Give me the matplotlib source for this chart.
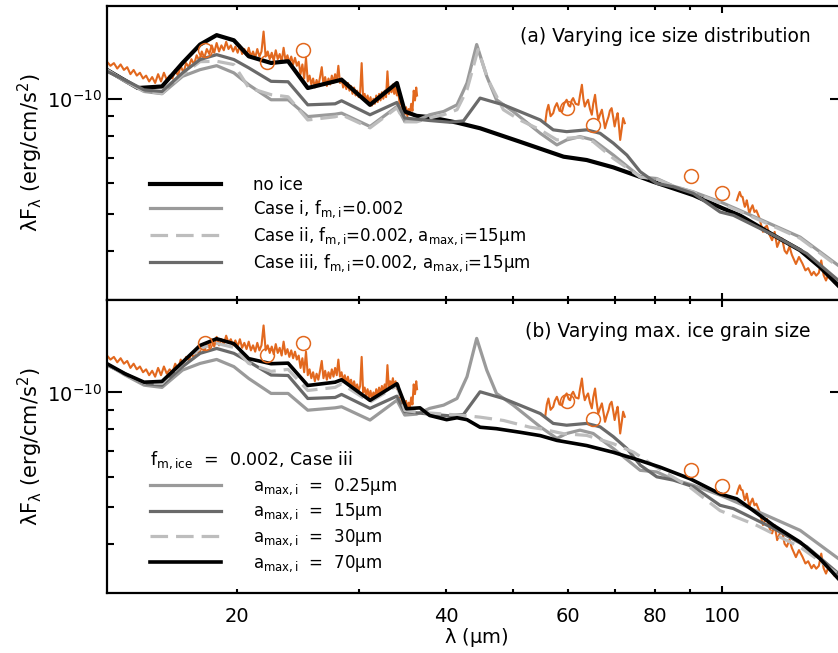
import numpy as np
import matplotlib.pyplot as plt
from matplotlib.ticker import FixedLocator, FuncFormatter, NullFormatter

plt.rcParams['font.family'] = 'DejaVu Sans'
plt.rcParams['mathtext.default'] = 'regular'

UNIT = 1e-10  # all fluxes below are in units of 1e-10 erg/cm/s^2

# ---------------- model SEDs ----------------
# no ice
wl_noice = [13.0, 14.4, 15.6, 16.7, 17.7, 18.7, 19.8, 20.8, 22.4, 23.7,
            25.3, 27.7, 28.3, 31.1, 34.0, 34.9, 36.3, 37.9, 41.5, 44.8,
            51.1, 59.1, 63.8, 69.7, 76.2, 79.6, 85.1, 90.9, 100, 106,
            118.6, 129.5, 138.4, 150]
f_noice = [1.19, 1.067, 1.077, 1.241, 1.387, 1.468, 1.423, 1.292, 1.241, 1.254,
           1.067, 1.111, 1.122, 0.964, 1.100, 0.926, 0.902, 0.895, 0.866, 0.837,
           0.772, 0.705, 0.691, 0.661, 0.624, 0.606, 0.582, 0.559, 0.517, 0.495,
           0.439, 0.401, 0.362, 0.312]

# case i (same run as a_max,i = 0.25 um)
wl_case1 = [13.0, 13.8, 14.7, 15.6, 16.7, 17.7, 18.7, 19.8, 20.8, 22.4,
            23.7, 25.3, 27.7, 28.3, 31.1, 34.0, 34.9, 36.3, 37.9, 39.7,
            41.5, 42.9, 44.3, 45.8, 47.3, 50.0, 54.7, 57.8, 59.7, 62.4,
            65.2, 69.7, 76.2, 80.5, 85.1, 90.9, 99.3, 106, 118.6, 129.5, 150]
f_case1 = [1.187, 1.111, 1.045, 1.031, 1.145, 1.192, 1.221, 1.169, 1.088, 0.994,
           0.994, 0.898, 0.911, 0.917, 0.846, 0.954, 0.872, 0.877, 0.908, 0.926,
           0.964, 1.100, 1.387, 1.145, 0.994, 0.926, 0.812, 0.757, 0.780, 0.796,
           0.780, 0.712, 0.624, 0.618, 0.590, 0.570, 0.537, 0.510, 0.466, 0.434, 0.356]

# case ii
wl_case2 = [13.0, 13.8, 14.7, 15.6, 16.7, 17.7, 18.7, 19.8, 20.8, 22.4,
            23.7, 25.3, 27.7, 28.3, 31.1, 34.0, 34.9, 36.3, 37.9, 39.7,
            41.5, 42.9, 44.5, 46.0, 48.4, 51.1, 54.7, 57.8, 59.7, 62.4,
            65.2, 69.7, 76.2, 80.5, 85.1, 90.9, 99.3, 106, 118.6, 129.5, 150]
f_case2 = [1.19, 1.115, 1.048, 1.033, 1.157, 1.251, 1.254, 1.229, 1.069, 1.025,
           1.012, 0.880, 0.897, 0.908, 0.839, 0.947, 0.870, 0.870, 0.891, 0.908,
           0.936, 1.056, 1.346, 1.122, 0.936, 0.880, 0.829, 0.780, 0.788, 0.793,
           0.772, 0.698, 0.624, 0.616, 0.590, 0.569, 0.533, 0.507, 0.463, 0.431, 0.353]

# case iii (same run as a_max,i = 15 um)
wl_case3 = [13.0, 13.8, 14.7, 15.6, 16.7, 17.7, 18.7, 19.8, 20.8, 22.4,
            23.7, 25.3, 27.7, 28.3, 31.1, 34.0, 34.9, 36.3, 37.9, 40.5,
            42.4, 44.8, 48.4, 51.1, 54.7, 57.1, 59.7, 63.8, 66.7, 69.7,
            72.9, 76.2, 80.5, 85.1, 90.9, 99.3, 103.8, 118.6, 132.4, 150]
f_case3 = [1.18, 1.12, 1.055, 1.045, 1.169, 1.267, 1.305, 1.267, 1.205, 1.111,
           1.108, 0.964, 0.970, 0.988, 0.908, 0.978, 0.890, 0.884, 0.877, 0.868,
           0.875, 1.004, 0.964, 0.926, 0.880, 0.829, 0.820, 0.829, 0.812, 0.765,
           0.712, 0.644, 0.600, 0.588, 0.565, 0.505, 0.495, 0.439, 0.393, 0.324]

# a_max,i = 30 um
wl_amax30 = [13.0, 13.8, 14.7, 15.6, 16.7, 17.7, 18.7, 19.8, 20.8, 22.4,
             23.7, 25.3, 27.7, 28.3, 31.1, 34.0, 34.9, 36.3, 39.2, 42.4,
             44.8, 48.4, 52.9, 54.7, 59.1, 63.8, 69.7, 74.5, 79.6, 85.1,
             89.9, 99.3, 112.2, 129.5, 150]
f_amax30 = [1.185, 1.115, 1.059, 1.056, 1.195, 1.306, 1.346, 1.313, 1.192, 1.136,
            1.15, 1.012, 1.031, 1.054, 0.943, 1.043, 0.897, 0.888, 0.879, 0.870,
            0.861, 0.844, 0.810, 0.803, 0.779, 0.771, 0.733, 0.697, 0.643, 0.598,
            0.563, 0.489, 0.447, 0.392, 0.324]

# a_max,i = 70 um
wl_amax70 = [13.0, 13.8, 14.7, 15.6, 16.7, 17.7, 18.7, 19.8, 20.8, 22.4,
             23.7, 25.3, 27.7, 28.3, 31.1, 34.0, 35.1, 36.7, 37.9, 40.1,
             41.5, 42.9, 44.8, 47.3, 51.1, 54.7, 57.8, 63.8, 69.7, 76.2,
             81.4, 89.9, 99.3, 105, 110.9, 118.6, 129.5, 138.4, 150]
f_amax70 = [1.19, 1.12, 1.064, 1.069, 1.201, 1.329, 1.384, 1.343, 1.227, 1.19,
            1.194, 1.043, 1.064, 1.080, 0.953, 1.054, 0.906, 0.911, 0.870, 0.848,
            0.858, 0.848, 0.810, 0.803, 0.786, 0.770, 0.748, 0.725, 0.696, 0.662,
            0.636, 0.593, 0.541, 0.525, 0.489, 0.447, 0.404, 0.365, 0.311]

# ---------------- observations ----------------
# IRS spectrum
irs_wl = [13.0, 13.15, 13.3, 13.45, 13.6, 13.75, 13.9, 14.05, 14.2, 14.35,
          14.5, 14.65, 14.8, 14.95, 15.1, 15.25, 15.4, 15.55, 15.7, 15.85,
          16.0, 16.15, 16.3, 16.45, 16.6, 16.75, 16.9, 17.05, 17.2, 17.35,
          17.5, 17.65, 17.8, 17.95, 18.1, 18.25, 18.4, 18.55, 18.7, 18.85,
          19.0, 19.15, 19.3, 19.45, 19.6, 19.75, 19.9, 20.05, 20.2, 20.35,
          20.5, 20.65, 20.8, 20.95, 21.1, 21.25, 21.4, 21.55, 21.7, 21.85,
          22.0, 22.15, 22.3, 22.45, 22.6, 22.75, 22.9, 23.05, 23.2, 23.35,
          23.5, 23.65, 23.8, 23.95, 24.1, 24.25, 24.4, 24.55, 24.7, 24.85,
          25.0, 25.15, 25.3, 25.45, 25.6, 25.75, 25.9, 26.05, 26.2, 26.35,
          26.5, 26.65, 26.8, 26.95, 27.1, 27.25, 27.4, 27.55, 27.7, 27.85,
          28.0, 28.15, 28.3, 28.45, 28.6, 28.75, 28.9, 29.05, 29.2, 29.35,
          29.5, 29.65, 29.8, 29.95, 30.1, 30.25, 30.4, 30.55, 30.7, 30.85,
          31.0, 31.15, 31.3, 31.45, 31.6, 31.75, 31.9, 32.05, 32.2, 32.35,
          32.5, 32.65, 32.8, 32.95, 33.1, 33.25, 33.4, 33.55, 33.7, 33.85,
          34.0, 34.15, 34.3, 34.45, 34.6, 34.75, 34.9, 35.05, 35.2, 35.35,
          35.5, 35.65, 35.8, 35.95, 36.1, 36.25, 36.35]
irs_flux = [1.25, 1.22, 1.24, 1.20, 1.23, 1.19, 1.21, 1.16, 1.19, 1.15,
            1.17, 1.13, 1.15, 1.11, 1.14, 1.10, 1.16, 1.11, 1.17, 1.12,
            1.15, 1.13, 1.19, 1.15, 1.22, 1.17, 1.24, 1.21, 1.27, 1.23,
            1.30, 1.26, 1.33, 1.28, 1.35, 1.31, 1.38, 1.32, 1.40, 1.33,
            1.38, 1.34, 1.41, 1.35, 1.38, 1.33, 1.37, 1.32, 1.38, 1.31,
            1.35, 1.30, 1.36, 1.29, 1.33, 1.28, 1.35, 1.29, 1.33, 1.50,
            1.29, 1.33, 1.27, 1.32, 1.26, 1.34, 1.27, 1.31, 1.25, 1.36,
            1.26, 1.30, 1.24, 1.29, 1.23, 1.28, 1.22, 1.25, 1.16, 1.23,
            1.13, 1.28, 1.11, 1.15, 1.09, 1.13, 1.07, 1.12, 1.08, 1.14,
            1.21, 1.09, 1.14, 1.08, 1.13, 1.09, 1.15, 1.10, 1.16, 1.11,
            1.22, 1.10, 1.13, 1.07, 1.11, 1.06, 1.10, 1.05, 1.08, 1.03,
            1.07, 1.02, 1.05, 1.01, 1.04, 1.24, 1.00, 1.03, 0.98, 1.02,
            0.97, 1.01, 0.96, 1.00, 0.97, 1.02, 0.98, 1.03, 0.99, 1.04,
            1.00, 1.05, 1.01, 1.18, 1.03, 1.07, 1.04, 1.09, 1.03, 1.07,
            1.02, 1.05, 0.97, 0.99, 0.93, 0.96, 0.91, 0.95, 0.90, 0.94,
            0.91, 0.97, 0.93, 1.05, 0.99, 1.07, 1.02]

# 55-72 um spectrum
mid_wl = [55.6, 55.9, 56.2, 56.6, 57.1, 57.4, 57.8, 58.3, 58.8, 59.2,
          59.7, 60.1, 60.4, 60.7, 61.0, 61.5, 62.1, 62.4, 62.8, 63.1,
          63.4, 63.8, 64.1, 64.5, 64.9, 65.2, 65.6, 65.9, 66.3, 66.7,
          67.1, 67.5, 67.8, 68.2, 68.6, 68.9, 69.3, 69.7, 70.0, 70.4,
          70.7, 71.0, 71.3, 71.7, 72.0, 72.4]
mid_flux = [0.863, 0.93, 0.964, 0.90, 0.917, 0.95, 0.974, 0.93, 0.926, 0.97,
            0.994, 0.96, 0.954, 0.99, 1.004, 0.97, 0.964, 1.02, 1.088, 1.00,
            0.954, 0.98, 0.994, 0.94, 0.908, 0.97, 1.024, 0.95, 0.880, 0.91,
            0.936, 0.88, 0.837, 0.87, 0.898, 0.93, 0.945, 0.89, 0.846, 0.89,
            0.917, 0.85, 0.780, 0.84, 0.890, 0.863]

# 105-146 um spectrum
far_wl = [105.0, 105.6, 106.0, 106.5, 107.0, 107.4, 107.8, 108.2, 108.5, 109.0,
          109.4, 110.0, 110.6, 111.3, 112.0, 113.0, 113.7, 114.5, 115.2, 116.0,
          117.0, 118.0, 119.0, 120.0, 121.0, 122.0, 123.0, 123.9, 125.0, 126.0,
          127.7, 129.0, 130.5, 131.8, 133.0, 134.5, 135.5, 136.6, 137.8, 138.9,
          140.0, 141.1, 142.5, 143.8, 145.0, 146.3]
far_flux = [0.542, 0.56, 0.570, 0.555, 0.553, 0.535, 0.521, 0.530, 0.542, 0.52,
            0.500, 0.515, 0.526, 0.505, 0.51, 0.490, 0.47, 0.448, 0.46, 0.465,
            0.44, 0.426, 0.448, 0.409, 0.425, 0.43, 0.40, 0.393, 0.41, 0.39,
            0.369, 0.385, 0.37, 0.355, 0.36, 0.345, 0.352, 0.344, 0.35, 0.377,
            0.345, 0.334, 0.35, 0.34, 0.33, 0.327]

# photometry
phot_wl = [18.0, 22.1, 24.9, 59.8, 65.2, 90.2, 100.0]
phot_flux = [1.346, 1.251, 1.346, 0.947, 0.854, 0.627, 0.566]

ORANGE = '#E2681E'
BLACK = 'black'
MID = '#9a9a9a'
DARK = '#6a6a6a'
LIGHT = '#bdbdbd'
DASH = (5.5, 2.5)


def sed(wl, f):
    return np.array(wl), np.array(f) * UNIT


def draw_obs(ax):
    for wl, f in [(irs_wl, irs_flux), (mid_wl, mid_flux), (far_wl, far_flux)]:
        x, y = sed(wl, f)
        ax.plot(x, y, color=ORANGE, lw=1.5, zorder=1)
    x, y = sed(phot_wl, phot_flux)
    ax.plot(x, y, 'o', ms=10, mfc='none', mec=ORANGE, mew=1.1, zorder=5)


def style_axes(ax, show_x):
    ax.set_xscale('log')
    ax.set_yscale('log')
    ax.set_xlim(13.0, 150.3)
    ax.set_ylim(0.297 * UNIT, 1.75 * UNIT)
    ax.xaxis.set_major_locator(FixedLocator([100]))
    ax.xaxis.set_minor_locator(FixedLocator([20, 30, 40, 50, 60, 70, 80, 90]))
    ax.xaxis.set_major_formatter(FuncFormatter(lambda v, p: '%d' % v))
    ax.xaxis.set_minor_formatter(
        FuncFormatter(lambda v, p: '%d' % v if int(round(v)) in (20, 40, 60, 80) else ''))
    ax.yaxis.set_major_locator(FixedLocator([UNIT]))
    ax.yaxis.set_minor_locator(FixedLocator([v * 1e-11 for v in range(4, 10)]))
    ax.yaxis.set_major_formatter(FuncFormatter(lambda v, p: r'$10^{-10}$'))
    ax.yaxis.set_minor_formatter(NullFormatter())
    ax.tick_params(which='both', direction='in', top=True, right=True,
                   width=1.5, labelsize=14, labelbottom=show_x)
    ax.tick_params(axis='x', which='major', length=5, pad=10)
    ax.tick_params(axis='x', which='minor', length=3, pad=10)
    ax.tick_params(axis='y', which='major', length=10.5, pad=4)
    ax.tick_params(axis='y', which='minor', length=5.3)
    for s in ax.spines.values():
        s.set_linewidth(1.6)
    ax.set_ylabel(r'$\lambda$F$_\lambda$ (erg/cm/s$^2$)', fontsize=15, labelpad=1)


fig = plt.figure(figsize=(8.38, 6.53), dpi=100)
ax1 = fig.add_axes([0.1277, 0.5406, 0.8807, 0.4502])
ax2 = fig.add_axes([0.1277, 0.0919, 0.8807, 0.4487])

# ---- (a) ice size distribution ----
draw_obs(ax1)
l0, = ax1.plot(*sed(wl_noice, f_noice), color=BLACK, lw=3, label='no ice')
l1, = ax1.plot(*sed(wl_case1, f_case1), color=MID, lw=2.3,
               label=r'Case i, f$_{m,i}$=0.002')
l2, = ax1.plot(*sed(wl_case2, f_case2), color=LIGHT, lw=2.3, dashes=DASH,
               label=r'Case ii, f$_{m,i}$=0.002, a$_{max,i}$=15μm')
l3, = ax1.plot(*sed(wl_case3, f_case3), color=DARK, lw=2.3,
               label=r'Case iii, f$_{m,i}$=0.002, a$_{max,i}$=15μm')
ax1.legend(handles=[l0, l1, l2, l3], loc='lower left', bbox_to_anchor=(0.058, 0.09),
           frameon=False, fontsize=12, handlelength=4.3, handletextpad=1.9,
           labelspacing=0.3, borderpad=0, borderaxespad=0)
ax1.text(0.953, 0.895, '(a) Varying ice size distribution', transform=ax1.transAxes,
         ha='right', va='center', fontsize=13.5)
style_axes(ax1, False)

# ---- (b) maximum ice grain size ----
draw_obs(ax2)
m1, = ax2.plot(*sed(wl_case1, f_case1), color=MID, lw=2.3,
               label=r'a$_{max,i}$  =  0.25μm')
m2, = ax2.plot(*sed(wl_case3, f_case3), color=DARK, lw=2.3,
               label=r'a$_{max,i}$  =  15μm')
m3, = ax2.plot(*sed(wl_amax30, f_amax30), color=LIGHT, lw=2.3, dashes=DASH,
               label=r'a$_{max,i}$  =  30μm')
m4, = ax2.plot(*sed(wl_amax70, f_amax70), color=BLACK, lw=2.6,
               label=r'a$_{max,i}$  =  70μm')
ax2.legend(handles=[m1, m2, m3, m4], loc='lower left', bbox_to_anchor=(0.058, 0.066),
           frameon=False, fontsize=12, handlelength=4.3, handletextpad=1.9,
           labelspacing=0.3, borderpad=0, borderaxespad=0,
           title=r'f$_{m,ice}$  =  0.002, Case iii', title_fontsize=12.5,
           alignment='left')
ax2.text(0.953, 0.891, '(b) Varying max. ice grain size', transform=ax2.transAxes,
         ha='right', va='center', fontsize=13.5)
style_axes(ax2, True)
ax2.set_xlabel(r'$\lambda$ (μm)', fontsize=14, labelpad=0)

fig.savefig('out.png', dpi=100)
